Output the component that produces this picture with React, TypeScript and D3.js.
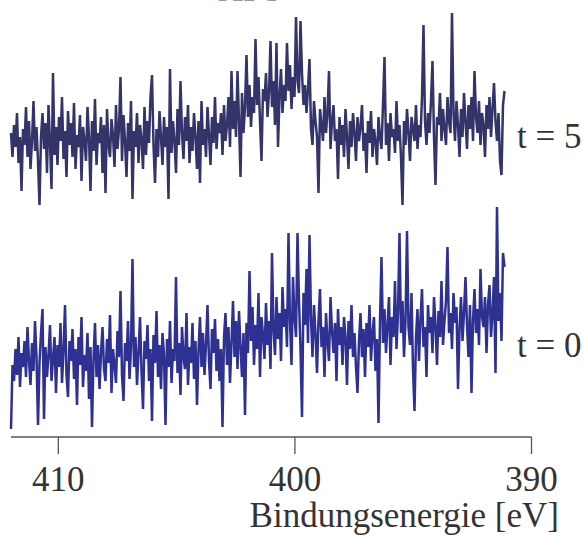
import React from "react";
import * as d3 from "d3";

const W = 584;
const H = 536;

// Binding energy grid (eV), evenly spaced, descending
const E_START = 412.0;
const E_STEP = 0.0634;

// x-axis ticks
const xTicks = [410, 400, 390];
const xTitle = "Bindungsenergie [eV]";

// Series labels and stacking offsets (intensity units)
const seriesLabels = ["t = 0", "t = 5"];
const seriesOffsets = [0, 110];

// t = 0 spectrum (arb. units)
const t0Values = [
  4, 36, 28, 44, 31, 50, 25, 42, 35, 48,
  30, 55, 38, 26, 47, 33, 58, 40, 6, 37,
  52, 64, 9, 45, 30, 41, 56, 28, 39, 50,
  22, 46, 35, 57, 27, 43, 66, 31, 20, 48,
  38, 54, 29, 44, 16, 50, 36, 60, 25, 41,
  33, 52, 19, 45, 5, 39, 57, 30, 46, 24,
  42, 55, 34, 28, 49, 37, 61, 22, 44, 36,
  27, 53, 40, 73, 31, 18, 47, 38, 58, 29,
  45, 89, 35, 50, 26, 42, 60, 33, 14, 48,
  39, 56, 28, 44, 8, 51, 37, 63, 30, 46,
  24, 52, 41, 6, 49, 35, 58, 27, 44, 38,
  80, 32, 47, 21, 55, 40, 34, 62, 26, 45,
  37, 57, 29, 48, 16, 43, 60, 35, 52, 31,
  46, 66, 38, 24, 54, 42, 59, 33, 49, 28,
  44, 5, 50, 62, 36, 55, 27, 47, 68, 40,
  58, 34, 63, 45, 30, 52, 11, 57, 42, 83,
  48, 65, 36, 56, 44, 72, 30, 60, 51, 39,
  67, 46, 58, 34, 92, 53, 41, 70, 49, 62,
  38, 75, 55, 64, 45, 102, 58, 36, 80, 60,
  50, 102, 68, 44, 10, 72, 56, 84, 47, 101,
  60, 40, 66, 52, 32, 58, 74, 45, 55, 30,
  62, 48, 38, 70, 53, 42, 57, 28, 64, 46,
  55, 36, 60, 50, 26, 58, 44, 66, 40, 52,
  35, 22, 48, 62, 40, 54, 30, 57, 45, 66,
  38, 52, 60, 33, 49, 7, 58, 90, 47, 64,
  42, 56, 70, 36, 60, 50, 78, 44, 62, 102,
  52, 68, 40, 58, 103, 55, 46, 72, 34, 13,
  50, 64, 38, 59, 74, 45, 55, 30, 66, 52,
  60, 42, 70, 56, 36, 63, 50, 78, 46, 58,
  68, 95, 52, 62, 44, 72, 57, 65, 24, 54,
  70, 48, 62, 80, 56, 40, 66, 22, 58, 74,
  52, 64, 46, 84, 60, 55, 70, 42, 66, 76,
  50, 62, 80, 32, 115, 58, 72, 48, 92, 85,
];

// t = 5 spectrum (arb. units)
const t5Values = [
  42, 30, 46, 35, 52, 27, 40, 13, 44, 36,
  55, 30, 48, 24, 38, 58, 33, 45, 28, 6,
  40, 52, 34, 47, 22, 56, 37, 14, 72, 31,
  45, 26, 50, 38, 60, 29, 43, 20, 53, 36,
  47, 30, 57, 24, 41, 35, 51, 18, 45, 38,
  28, 55, 40, 13, 48, 33, 59, 26, 42, 37,
  50, 22, 46, 12, 54, 36, 30, 49, 41, 25,
  56, 34, 44, 70, 28, 51, 38, 20, 47, 33,
  58, 9, 43, 35, 52, 27, 46, 39, 24, 55,
  31, 48, 37, 60, 71, 36, 17, 44, 30, 53,
  40, 26, 50, 35, 45, 9, 74, 32, 48, 38,
  22, 54, 36, 68, 42, 29, 50, 38, 56, 27,
  45, 33, 52, 40, 24, 48, 17, 58, 36, 44,
  30, 55, 41, 26, 50, 37, 60, 34, 47, 42,
  52, 31, 56, 38, 46, 60, 35, 73, 44, 58,
  40, 73, 48, 20, 62, 42, 55, 81, 50, 66,
  45, 60, 52, 89, 56, 70, 48, 28, 64, 58,
  72, 50, 62, 88, 55, 68, 46, 87, 35, 60,
  74, 52, 66, 58, 87, 63, 76, 54, 70, 60,
  100, 68, 62, 98, 72, 56, 66, 52, 64, 79,
  44, 36, 58, 48, 40, 12, 54, 46, 38, 60,
  42, 52, 73, 34, 48, 56, 38, 44, 19, 50,
  36, 46, 30, 54, 40, 24, 48, 35, 52, 42,
  28, 50, 38, 45, 56, 33, 42, 22, 48, 37,
  53, 30, 44, 38, 26, 50, 40, 34, 56, 80,
  36, 47, 28, 52, 40, 44, 32, 58, 38, 46,
  30, 6, 48, 36, 54, 42, 28, 50, 44, 38,
  56, 34, 46, 40, 60, 96, 48, 36, 52, 42,
  58, 78, 40, 16, 50, 46, 62, 38, 54, 44,
  36, 60, 48, 42, 102, 52, 38, 58, 46, 30,
  54, 40, 62, 48, 34, 56, 44, 60, 38, 73,
  50, 42, 58, 36, 52, 46, 30, 56, 44, 60,
  40, 54, 67, 48, 38, 52, 28, 21, 56, 63,
];

const seriesValues = [t0Values, t5Values];
const seriesColors = ["#2e3192", "#33346a"];

const FONT = "'Liberation Serif', 'Times New Roman', serif";

export default function App() {
  const x = d3.scaleLinear().domain([412, 390]).range([11, 531.5]);
  const y = d3.scaleLinear().domain([0, 220]).range([437, -3]);
  const axisY = 437;

  const lines = seriesValues.map((vals, s) => {
    const pts: [number, number][] = vals.map((v, i) => [E_START - i * E_STEP, v + seriesOffsets[s]]);
    const gen = d3
      .line<[number, number]>()
      .x((d) => x(d[0]))
      .y((d) => y(d[1]));
    return gen(pts) || "";
  });

  return (
    <svg
      width={W}
      height={H}
      style={{ position: "absolute", left: 0, top: 0, background: "#fff" }}
      fontFamily={FONT}
    >
      <rect x={0} y={0} width={W} height={H} fill="#fff" />
      <text x={250} y={1} textAnchor="middle" fontSize={35} fill="#999">
        XPS
      </text>
      {lines.map((d, s) => (
        <path key={s} d={d} fill="none" stroke={seriesColors[s]} strokeWidth={2.5} strokeLinejoin="miter" />
      ))}
      {seriesLabels.map((lab, s) => (
        <text key={lab} x={517} y={s === 0 ? 357 : 148} fontSize={35} fill="#333">
          {lab}
        </text>
      ))}
      <line x1={x(412)} x2={x(390)} y1={axisY} y2={axisY} stroke="#555" strokeWidth={1.3} />
      {xTicks.map((t) => (
        <g key={t}>
          <line x1={x(t)} x2={x(t)} y1={axisY} y2={axisY + 17} stroke="#555" strokeWidth={1.3} />
          <text x={x(t)} y={491} textAnchor="middle" fontSize={35} fill="#333">
            {t}
          </text>
        </g>
      ))}
      <text x={559} y={527} textAnchor="end" fontSize={35} fill="#333">
        {xTitle}
      </text>
    </svg>
  );
}
